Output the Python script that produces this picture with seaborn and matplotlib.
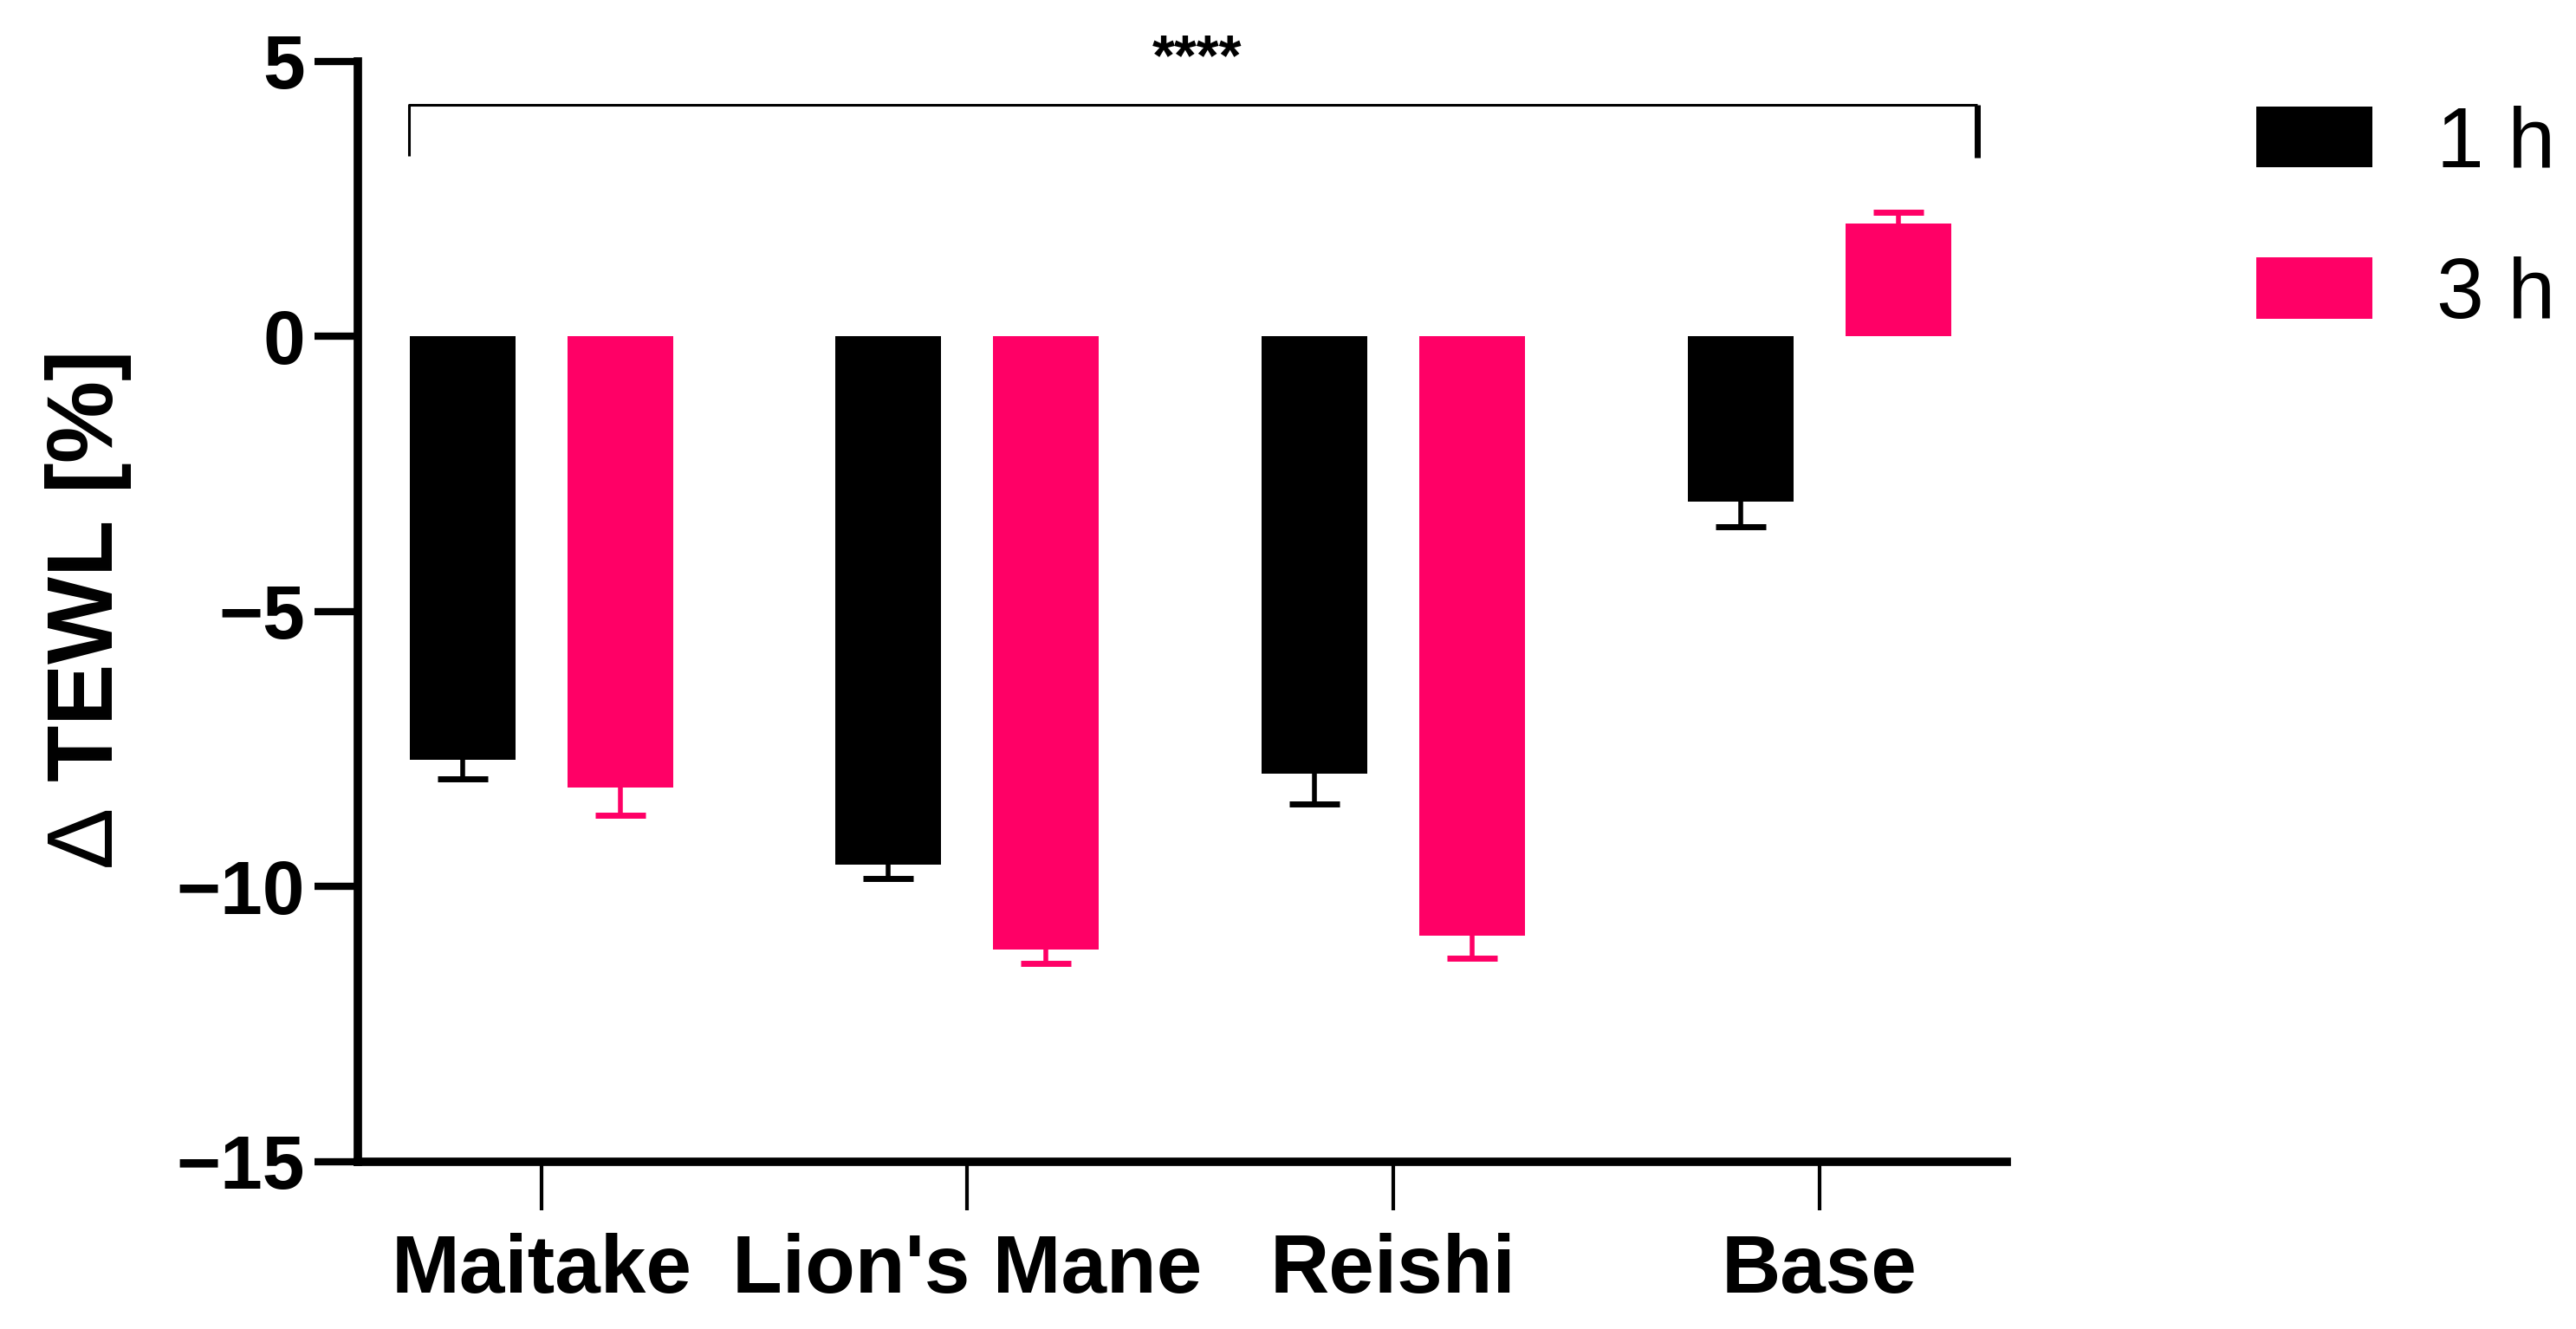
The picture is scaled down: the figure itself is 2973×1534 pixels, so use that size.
import numpy as np
import pandas as pd
import matplotlib.pyplot as plt
import seaborn as sns

#%% values (mean change of TEWL, one-sided SEM)
products = ["Maitake", "Lion's Mane", "Reishi", "Base"]
times = ["1 h", "3 h"]
tewl_1h = [-7.7, -9.6, -7.95, -3.0]
tewl_3h = [-8.2, -11.15, -10.9, 2.05]
sem_1h = [0.35, 0.25, 0.55, 0.47]
sem_3h = [0.5, 0.25, 0.4, 0.2]
y_ticks = [-15, -10, -5, 0, 5]
signif = "****"

colors = {"1 h": "#000000", "3 h": "#FF0066"}

df = pd.DataFrame({
    "product": products * 2,
    "time": [times[0]] * len(products) + [times[1]] * len(products),
    "tewl": tewl_1h + tewl_3h,
    "sem": sem_1h + sem_3h,
})

sns.set_style("ticks")
plt.rcParams["font.family"] = ["Liberation Sans", "DejaVu Sans"]
plt.rcParams.update({
    "text.color": "black", "axes.labelcolor": "black",
    "xtick.color": "black", "ytick.color": "black", "axes.edgecolor": "black",
    "mathtext.fontset": "custom", "mathtext.rm": "Liberation Sans",
    "mathtext.it": "Liberation Sans",
})

fig = plt.figure(figsize=(29.73, 15.34), dpi=100)
ax = fig.add_axes([0.139, 0.126, 0.64, 0.828])

sns.barplot(data=df, x="product", y="tewl", hue="time", order=products,
            hue_order=times, palette=colors, width=0.74, gap=0.33,
            errorbar=None, saturation=1, linewidth=0, ax=ax)

#%% one-sided error bars, pointing away from zero
for cont, t in zip(ax.containers, times):
    sub = df[df["time"] == t].set_index("product").loc[products]
    xs = np.array([b.get_x() + b.get_width() / 2 for b in cont])
    vals = sub["tewl"].values
    errs = sub["sem"].values
    lower = np.where(vals < 0, errs, 0)
    upper = np.where(vals > 0, errs, 0)
    ax.errorbar(xs, vals, yerr=[lower, upper], fmt="none", ecolor=colors[t],
                elinewidth=4, capsize=0, zorder=3)
    ends = vals + np.sign(vals) * errs
    ax.plot(xs, ends, ls="none", marker="_", markersize=42, mew=5,
            color=colors[t], zorder=3)

#%% significance bracket
ax.plot([-0.31, -0.31, 3.37], [3.28, 4.21, 4.21], color="black", lw=2.2,
        clip_on=False, solid_capstyle="butt")
ax.plot([3.37, 3.37], [4.21, 3.25], color="black", lw=5, clip_on=False,
        solid_capstyle="butt")
ax.text(1.54, 4.75, signif, ha="center", va="baseline", fontsize=48,
        fontweight="bold", clip_on=False)

#%% axes styling
ax.set_ylim(-15, 5)
ax.set_xlim(-0.43, 3.44)
ax.set_yticks(y_ticks)
ax.set_xlabel("")
ax.set_ylabel(r"$\Delta$ TEWL [%]", fontsize=77, fontweight="bold", labelpad=36)
sns.despine(ax=ax)
for s in ["left", "bottom"]:
    ax.spines[s].set_linewidth(7)
ax.tick_params(axis="y", length=36, width=6, labelsize=63, pad=8)
ax.tick_params(axis="x", length=40, width=3, labelsize=68, pad=19)
for lab in ax.get_xticklabels() + ax.get_yticklabels():
    lab.set_fontweight("bold")

handles, labels = ax.get_legend_handles_labels()
ax.get_legend().remove()
fig.legend(handles, labels, loc="upper left", bbox_to_anchor=(0.876, 0.921),
           frameon=False, fontsize=71, handlelength=1.36, handleheight=0.72,
           handletextpad=0.75, labelspacing=0.85, borderpad=0,
           borderaxespad=0)

fig.savefig("out.png", dpi=100)
